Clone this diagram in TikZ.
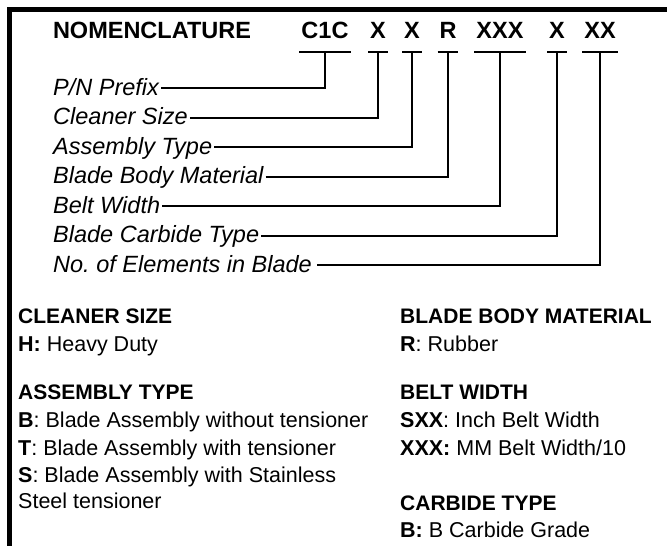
\documentclass[tikz,border=0pt]{standalone}
\usepackage{fontspec}
\setmainfont{Liberation Sans}
\begin{document}
\frenchspacing
\begin{tikzpicture}[x=1pt,y=-1pt,
  code/.style={font=\fontsize{23.5}{28}\selectfont\bfseries,anchor=base,inner xsep=2pt,inner ysep=0pt,outer sep=0pt},
  lbl/.style={font=\fontsize{23.5}{28}\selectfont\itshape,anchor=base west,inner sep=0pt},
  head/.style={font=\fontsize{21}{25}\selectfont\bfseries,anchor=base west,inner sep=0pt},
  item/.style={font=\fontsize{21.5}{25}\selectfont,anchor=base west,inner sep=0pt},
  lead/.style={line width=2pt}]
\useasboundingbox (0,0) rectangle (667,546);
\draw[line width=4.5pt] (667,9.5) -| (9.5,546);
\node[code,anchor=base west,inner sep=0pt] (title) at (53,38) {NOMENCLATURE};
\node[code] (cpre) at (325,38) {C1C};
\node[code] (csize) at (378,38) {X};
\node[code] (ctype) at (412,38) {X};
\node[code] (cbody) at (448,38) {R};
\node[code] (cbelt) at (500,38) {XXX};
\node[code] (ccarb) at (557,38) {X};
\node[code] (celem) at (600,38) {XX};
\foreach \c in {cpre,csize,ctype,cbody,cbelt,ccarb,celem}
  \draw[lead] ([yshift=-14pt]\c.south west) -- ([yshift=-14pt]\c.south east);
\node[lbl] (lpre) at (53,95) {P/N Prefix};
\node[lbl] (lsize) at (53,124.5) {Cleaner Size};
\node[lbl] (ltype) at (53,154) {Assembly Type};
\node[lbl] (lbody) at (53,183.5) {Blade Body Material};
\node[lbl] (lbelt) at (53,213) {Belt Width};
\node[lbl] (lcarb) at (53,242.5) {Blade Carbide Type};
\node[lbl] (lelem) at (53,272) {No.\ of Elements in Blade};
\draw[lead] ([shift={(2pt,7pt)}]lpre.base east) -| ([yshift=-14pt]cpre.south);
\draw[lead] ([shift={(2pt,7pt)}]lsize.base east) -| ([yshift=-14pt]csize.south);
\draw[lead] ([shift={(2pt,7pt)}]ltype.base east) -| ([yshift=-14pt]ctype.south);
\draw[lead] ([shift={(2pt,7pt)}]lbody.base east) -| ([yshift=-14pt]cbody.south);
\draw[lead] ([shift={(2pt,7pt)}]lbelt.base east) -| ([yshift=-14pt]cbelt.south);
\draw[lead] ([shift={(2pt,7pt)}]lcarb.base east) -| ([yshift=-14pt]ccarb.south);
\draw[lead] ([shift={(5pt,7pt)}]lelem.base east) -| ([yshift=-14pt]celem.south);
% left column
\node[head] (hsize) at (18,323) {CLEANER SIZE};
\node[item] (isize) at (18,351) {\textbf{H:} Heavy Duty};
\node[head] (htype) at (18,399) {ASSEMBLY TYPE};
\node[item] (itypeb) at (18,427) {\textbf{B}: Blade Assembly without tensioner};
\node[item] (itypet) at (18,455) {\textbf{T}: Blade Assembly with tensioner};
\node[item] (itypes) at (18,482) {\textbf{S}: Blade Assembly with Stainless};
\node[item] (itypess) at (18,508) {Steel tensioner};
% right column
\node[head] (hbody) at (400,323) {BLADE BODY MATERIAL};
\node[item] (ibody) at (400,351) {\textbf{R}: Rubber};
\node[head] (hbelt) at (400,399) {BELT WIDTH};
\node[item] (ibelts) at (400,427) {\textbf{SXX}: Inch Belt Width};
\node[item] (ibeltx) at (400,455) {\textbf{XXX:} MM Belt Width/10};
\node[head] (hcarb) at (400,510) {CARBIDE TYPE};
\node[item] (icarb) at (400,537) {\textbf{B:} B Carbide Grade};
\end{tikzpicture}
\end{document}
